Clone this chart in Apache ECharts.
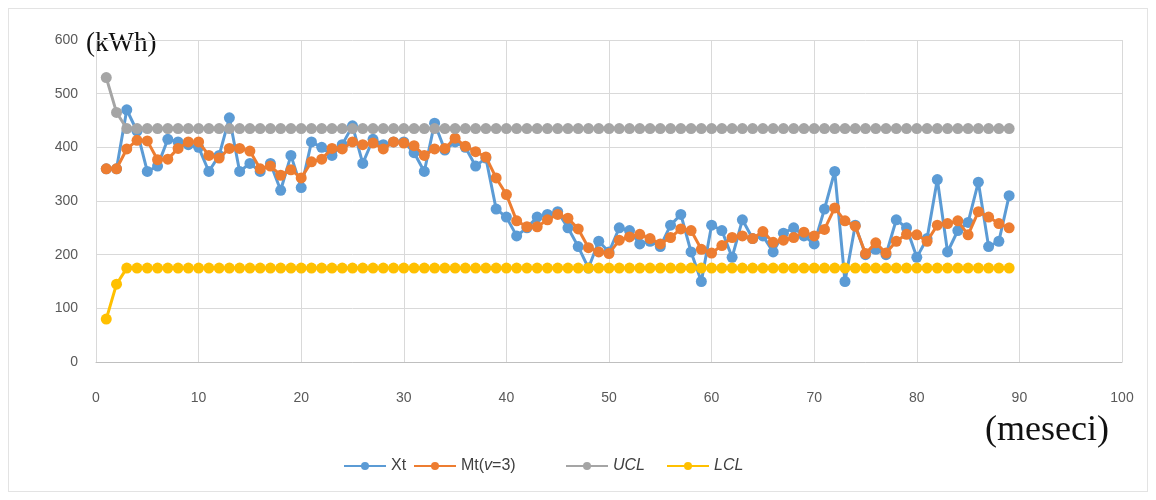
<!DOCTYPE html>
<html><head><meta charset="utf-8">
<script src="https://cdn.jsdelivr.net/npm/echarts@6/dist/echarts.min.js"></script>
<style>
html,body{margin:0;padding:0;background:#fff;}
#frame{position:absolute;left:8px;top:8px;width:1140px;height:484px;border:1px solid #e3e3e3;box-sizing:border-box;}
#c{position:absolute;left:0;top:0;width:1156px;height:500px;}
</style></head>
<body><div id="frame"></div><div id="c"></div>
<script>
const months = Array.from({length:89},(_,i)=>i+1);
const xt = [360,360,470,430,355,365,415,410,405,400,355,385,455,355,370,355,370,320,385,325,
410,400,385,405,440,370,415,405,410,410,390,355,445,395,410,400,365,380,285,270,
235,250,270,275,280,250,215,175,225,205,250,245,220,225,215,255,275,205,150,255,
245,195,265,230,235,205,240,250,235,220,285,355,150,255,200,210,200,265,250,195,
230,340,205,245,260,335,215,225,310];
const mt = [360,360,397,413,412,377,378,398,410,410,385,380,398,398,393,360,365,348,358,343,
373,378,398,397,410,405,408,397,410,408,403,385,397,398,417,402,392,382,343,312,
263,252,252,265,275,268,248,213,205,202,227,233,238,230,220,232,248,245,210,203,
217,232,235,230,243,223,227,232,242,235,247,287,263,253,202,222,203,225,238,237,
225,255,258,263,237,280,270,258,250];
const ucl = [530,465].concat(Array(87).fill(435));
const lcl = [80,145].concat(Array(87).fill(175));
const names = ['Xt','Mt(v=3)','UCL','LCL'];
const colors = ['#5B9BD5','#ED7D31','#A5A5A5','#FFC000'];
const vals = [xt,mt,ucl,lcl];
const legendLeft = [343,413,565,666];

const legendTextStyle = {color:'#404040',fontSize:16,fontFamily:'Liberation Sans',
  rich:{n:{fontSize:16,color:'#404040',fontFamily:'Liberation Sans'},
        i:{fontSize:16,color:'#404040',fontStyle:'italic',fontFamily:'Liberation Sans'}}};
const legendFormatter = function(n){
  if(n==='Mt(v=3)') return '{n|Mt(}{i|v}{n|=3)}';
  if(n==='UCL'||n==='LCL') return '{i|'+n+'}';
  return '{n|'+n+'}';
};

const chart = echarts.init(document.getElementById('c'));
chart.setOption({
  animation:false,
  grid:{left:96,right:34,top:40,bottom:138,containLabel:false},
  xAxis:{type:'value',min:0,max:100,interval:10,
    axisLine:{show:true,lineStyle:{color:'#bfbfbf'}},axisTick:{show:false},
    axisLabel:{color:'#595959',fontSize:14,fontFamily:'Liberation Sans',margin:29},
    splitLine:{show:true,lineStyle:{color:'#d9d9d9'}}},
  yAxis:{type:'value',min:0,max:600,interval:100,
    axisLine:{show:false},axisTick:{show:false},
    axisLabel:{color:'#595959',fontSize:14,fontFamily:'Liberation Sans',margin:18},
    splitLine:{show:true,lineStyle:{color:'#d9d9d9'}}},
  legend:names.map((n,k)=>({top:458,left:legendLeft[k],itemWidth:42,itemHeight:10,
    data:[n],padding:0,textStyle:legendTextStyle,formatter:legendFormatter})),
  graphic:[
    {type:'text',left:86,top:30,style:{text:'(kWh)',fontFamily:'Liberation Serif',fontSize:27,fill:'#111'}},
    {type:'text',left:985,top:413,style:{text:'(meseci)',fontFamily:'Liberation Serif',fontSize:36,fill:'#111'}}
  ],
  series:names.map((n,k)=>({
    name:n,type:'line',
    data:months.map((m,i)=>[m,vals[k][i]]),
    symbol:'circle',symbolSize:11,
    lineStyle:{width:3,color:colors[k]},
    itemStyle:{color:colors[k]},
    z:2+k
  }))
});
</script></body></html>
